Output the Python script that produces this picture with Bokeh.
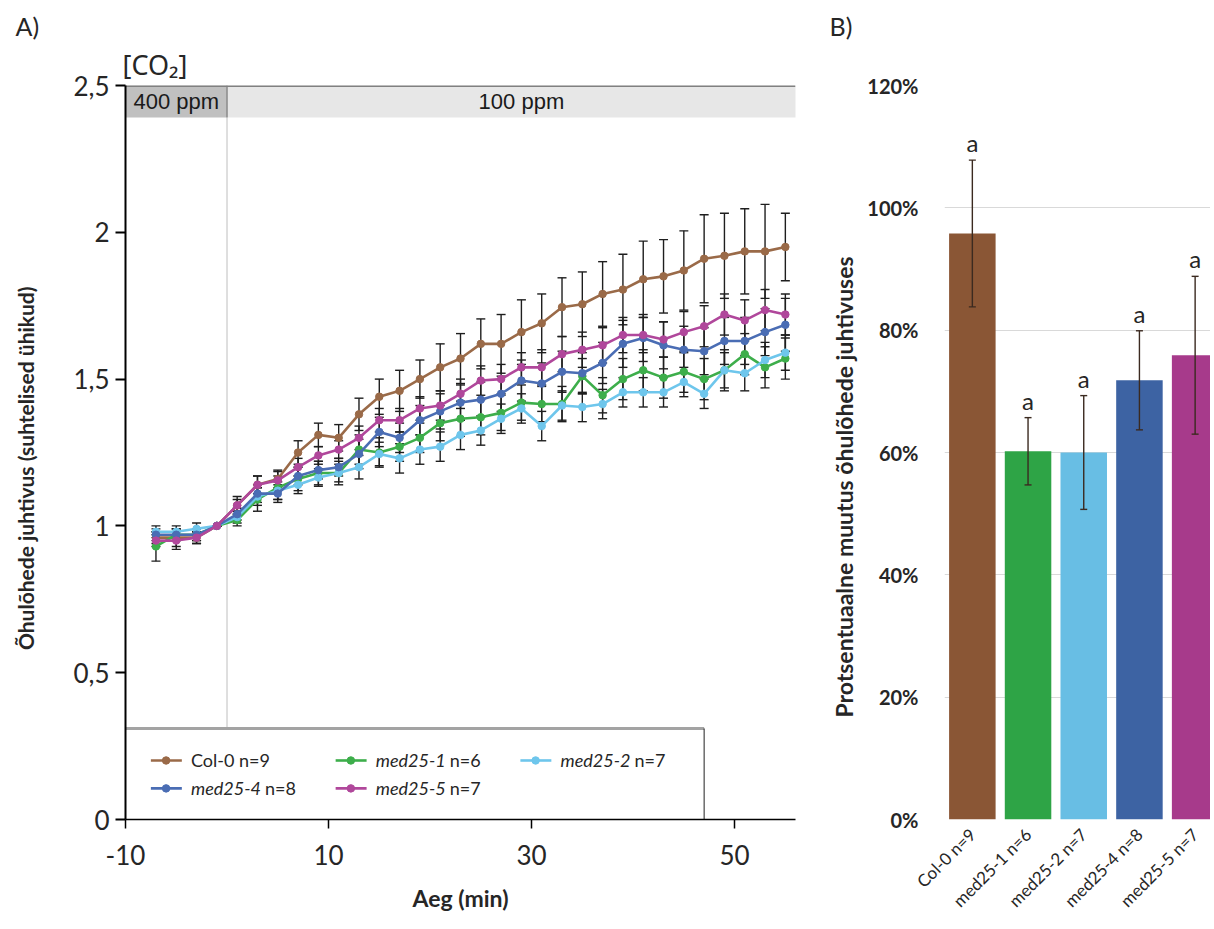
import math
from bokeh.plotting import figure
from bokeh.models import ColumnDataSource, Range1d, FixedTicker, Whisker, TeeHead, Title
from bokeh.layouts import row
from bokeh.embed import file_html
from bokeh.resources import INLINE
from bokeh.core.properties import value

# ---------------- data: panel A ----------------
time_min = [-7, -5, -3, -1, 1, 3, 5, 7, 9, 11, 13, 15, 17, 19, 21, 23, 25, 27, 29, 31,
            33, 35, 37, 39, 41, 43, 45, 47, 49, 51, 53, 55]

col0 = [0.96, 0.96, 0.96, 1.00, 1.07, 1.14, 1.16, 1.25, 1.31, 1.30, 1.38, 1.44, 1.46, 1.50, 1.54, 1.57,
        1.62, 1.62, 1.66, 1.69, 1.745, 1.755, 1.79, 1.805, 1.84, 1.85, 1.87, 1.91, 1.92, 1.935, 1.935, 1.95]
med25_1 = [0.93, 0.97, 0.97, 1.00, 1.02, 1.09, 1.13, 1.16, 1.18, 1.18, 1.26, 1.25, 1.27, 1.30, 1.35, 1.365,
           1.37, 1.385, 1.42, 1.415, 1.415, 1.51, 1.445, 1.50, 1.53, 1.505, 1.525, 1.50, 1.53, 1.585, 1.54, 1.57]
med25_2 = [0.98, 0.98, 0.99, 1.00, 1.03, 1.10, 1.12, 1.14, 1.165, 1.18, 1.20, 1.245, 1.23, 1.26, 1.27, 1.31,
           1.325, 1.365, 1.40, 1.34, 1.41, 1.405, 1.415, 1.455, 1.455, 1.455, 1.49, 1.45, 1.53, 1.52, 1.565, 1.59]
med25_4 = [0.97, 0.97, 0.97, 1.00, 1.04, 1.11, 1.11, 1.17, 1.19, 1.20, 1.245, 1.32, 1.30, 1.36, 1.39, 1.42,
           1.43, 1.45, 1.495, 1.485, 1.525, 1.52, 1.555, 1.62, 1.64, 1.615, 1.60, 1.595, 1.63, 1.63, 1.66, 1.685]
med25_5 = [0.95, 0.95, 0.96, 1.00, 1.07, 1.14, 1.155, 1.20, 1.24, 1.26, 1.30, 1.36, 1.36, 1.40, 1.41, 1.45,
           1.495, 1.50, 1.54, 1.54, 1.585, 1.60, 1.615, 1.65, 1.65, 1.635, 1.66, 1.68, 1.72, 1.70, 1.735, 1.72]

col0_se = [0.02, 0.03, 0.02, 0, 0.03, 0.03, 0.03, 0.04, 0.04, 0.045, 0.055, 0.06, 0.07, 0.065, 0.08, 0.085,
           0.085, 0.10, 0.11, 0.10, 0.10, 0.11, 0.11, 0.12, 0.13, 0.125, 0.135, 0.15, 0.145, 0.145, 0.16, 0.115]
med25_1_se = [0.05, 0.02, 0.02, 0, 0.02, 0.04, 0.04, 0.04, 0.04, 0.04, 0.05, 0.05, 0.05, 0.05, 0.06, 0.06,
              0.06, 0.06, 0.06, 0.06, 0.06, 0.06, 0.06, 0.07, 0.07, 0.07, 0.07, 0.07, 0.07, 0.07, 0.07, 0.07]
med25_2_se = [0.02, 0.02, 0.02, 0, 0.02, 0.03, 0.03, 0.03, 0.03, 0.03, 0.04, 0.04, 0.05, 0.05, 0.05, 0.05,
              0.05, 0.05, 0.05, 0.05, 0.05, 0.05, 0.05, 0.05, 0.05, 0.05, 0.05, 0.05, 0.06, 0.06, 0.06, 0.06]
med25_4_se = [0.02, 0.02, 0.02, 0, 0.02, 0.03, 0.03, 0.03, 0.03, 0.03, 0.05, 0.05, 0.05, 0.05, 0.06, 0.06,
              0.06, 0.06, 0.07, 0.07, 0.07, 0.07, 0.07, 0.08, 0.08, 0.08, 0.08, 0.08, 0.08, 0.08, 0.08, 0.09]
med25_5_se = [0.02, 0.03, 0.02, 0, 0.02, 0.03, 0.03, 0.03, 0.03, 0.03, 0.04, 0.04, 0.04, 0.04, 0.05, 0.05,
              0.05, 0.05, 0.05, 0.06, 0.06, 0.06, 0.06, 0.06, 0.06, 0.06, 0.07, 0.07, 0.07, 0.07, 0.07, 0.07]

line_genotypes = ["Col-0", "med25-1", "med25-2", "med25-4", "med25-5"]
line_n = ["n=9", "n=6", "n=7", "n=8", "n=7"]
line_means = [col0, med25_1, med25_2, med25_4, med25_5]
line_ses = [col0_se, med25_1_se, med25_2_se, med25_4_se, med25_5_se]
line_colors = ["#9A6A48", "#3DAE4B", "#6EC6EC", "#4A6DB4", "#B0479B"]

co2_labels = ["400 ppm", "100 ppm"]
co2_start = [-10, 0]
co2_end = [0, 58]

y_ticks_a = [0, 0.5, 1, 1.5, 2, 2.5]
y_tick_labels_a = ["0", "0,5", "1", "1,5", "2", "2,5"]
x_ticks_a = [-10, 10, 30, 50]
x_tick_labels_a = ["-10", "10", "30", "50"]

# ---------------- data: panel B ----------------
bar_labels = ["Col-0 n=9", "med25-1 n=6", "med25-2 n=7", "med25-4 n=8", "med25-5 n=7"]
bar_values = [95.8, 60.2, 60.0, 71.8, 75.9]
bar_errors = [12.0, 5.5, 9.3, 8.1, 12.9]
bar_letters = ["a", "a", "a", "a", "a"]
bar_colors = ["#8A5635", "#2EA446", "#68BEE4", "#3D63A3", "#A73A8B"]
y_ticks_b = [0, 20, 40, 60, 80, 100, 120]

FONT = "Lato"
TXT = "#262626"
EM = "\u2003"

# ================= Panel A =================
pA = figure(width=818, height=925, x_range=Range1d(-10, 56), y_range=Range1d(0, 2.5),
            output_backend="svg", toolbar_location=None,
            min_border_left=125, min_border_right=23, min_border_top=85, min_border_bottom=106)
pA.outline_line_color = None
pA.xgrid.visible = False
pA.ygrid.visible = False

# CO2 band
band_bottom = 2.5 - 0.109
pA.quad(left=co2_start[:1], right=co2_end[:1], bottom=band_bottom, top=2.5,
        fill_color="#c0c0c0", line_color=None)
pA.quad(left=co2_start[1:], right=co2_end[1:], bottom=band_bottom, top=2.5,
        fill_color="#e7e7e7", line_color=None)
pA.segment(x0=[co2_start[1]], y0=[0], x1=[co2_start[1]], y1=[band_bottom], line_color="#d4d4d4", line_width=1.5)
pA.segment(x0=[co2_start[1]], y0=[band_bottom], x1=[co2_start[1]], y1=[2.5], line_color="#8a8a8a", line_width=1.5)
pA.segment(x0=[-10], y0=[2.5], x1=[56], y1=[2.5], line_color="#808080", line_width=3)
pA.text(x=[(s + e) / 2 for s, e in zip(co2_start, co2_end)], y=[(band_bottom + 2.5) / 2] * 2,
        text=co2_labels, text_align="center", text_baseline="middle",
        text_font=value("Liberation Sans"), text_font_size="22px", text_color="#1a1a1a")

# error bars + series
for mean, se in zip(line_means, line_ses):
    src = ColumnDataSource(dict(t=time_min,
                                lo=[m - s for m, s in zip(mean, se)],
                                up=[m + s for m, s in zip(mean, se)]))
    pA.add_layout(Whisker(source=src, base="t", lower="lo", upper="up", line_color="#1e1e1e", line_width=1.4,
                          upper_head=TeeHead(size=9, line_color="#1e1e1e", line_width=1.4),
                          lower_head=TeeHead(size=9, line_color="#1e1e1e", line_width=1.4)))
for mean, col in zip(line_means, line_colors):
    pA.line(time_min, mean, line_color=col, line_width=2.6)
    pA.scatter(time_min, mean, size=7.5, fill_color=col, line_color=col)

# legend box
leg_right = 47.0
leg_top = 0.31
pA.quad(left=[-10], right=[leg_right], bottom=[0], top=[leg_top], fill_color="white", line_color=None)
pA.segment(x0=[-10], y0=[leg_top], x1=[leg_right], y1=[leg_top], line_color="#a3a3a3", line_width=3)
pA.segment(x0=[leg_right], y0=[0], x1=[leg_right], y1=[leg_top], line_color="#202020", line_width=1)

leg_cols = [-6.0, 12.2, 30.4, -6.0, 12.2]
leg_rows = [0.201, 0.201, 0.201, 0.106, 0.106]
for i, (g, n, col) in enumerate(zip(line_genotypes, line_n, line_colors)):
    cx, cy = leg_cols[i], leg_rows[i]
    pA.segment(x0=[cx - 1.5], y0=[cy], x1=[cx + 1.55], y1=[cy], line_color=col, line_width=2.6)
    pA.scatter([cx], [cy], size=7.5, fill_color=col, line_color=col)
    tx = cx + 2.45
    if g.startswith("med"):
        pA.text(x=[tx], y=[cy], text=[g], text_baseline="middle", text_font=value(FONT),
                text_font_style="italic", text_font_size="18px", text_color=TXT)
        pA.text(x=[tx], y=[cy], text=[n], x_offset=74, text_baseline="middle", text_font=value(FONT),
                text_font_size="18px", text_color=TXT)
    else:
        pA.text(x=[tx], y=[cy], text=[g + " " + n], text_baseline="middle", text_font=value(FONT),
                text_font_size="18px", text_color=TXT)

# axes
pA.yaxis.ticker = FixedTicker(ticks=y_ticks_a)
pA.yaxis.major_label_overrides = {t: l for t, l in zip(y_ticks_a, y_tick_labels_a)}
pA.yaxis.axis_line_color = "black"
pA.yaxis.axis_line_width = 2
pA.yaxis.major_tick_out = 10
pA.yaxis.major_tick_in = 0
pA.yaxis.major_tick_line_width = 2
pA.yaxis.minor_tick_out = 0
pA.yaxis.minor_tick_in = 0
pA.yaxis.major_label_standoff = 6
pA.yaxis.major_label_text_font = FONT
pA.yaxis.major_label_text_font_size = "26px"
pA.yaxis.major_label_text_color = TXT
pA.yaxis.axis_label = "Õhulõhede juhtivus (suhtelised ühikud)" + EM + EM
pA.yaxis.axis_label_text_font = FONT
pA.yaxis.axis_label_text_font_style = "bold"
pA.yaxis.axis_label_text_font_size = "21px"
pA.yaxis.axis_label_text_color = TXT
pA.yaxis.axis_label_standoff = 32

pA.xaxis.ticker = FixedTicker(ticks=x_ticks_a)
pA.xaxis.major_label_overrides = {t: l for t, l in zip(x_ticks_a, x_tick_labels_a)}
pA.xaxis.axis_line_color = "black"
pA.xaxis.axis_line_width = 1.5
pA.xaxis.major_tick_out = 9
pA.xaxis.major_tick_in = 0
pA.xaxis.major_tick_line_width = 1.5
pA.xaxis.minor_tick_out = 0
pA.xaxis.minor_tick_in = 0
pA.xaxis.major_label_standoff = 16
pA.xaxis.major_label_text_font = FONT
pA.xaxis.major_label_text_font_size = "26px"
pA.xaxis.major_label_text_color = TXT
pA.xaxis.axis_label = "Aeg (min)"
pA.xaxis.axis_label_text_font = FONT
pA.xaxis.axis_label_text_font_style = "bold"
pA.xaxis.axis_label_text_font_size = "23px"
pA.xaxis.axis_label_text_color = TXT
pA.xaxis.axis_label_standoff = 16

pA.add_layout(Title(text="[CO₂]", align="left", offset=-3, standoff=6, text_font="Noto Sans",
                    text_font_size="27px", text_font_style="normal", text_color=TXT), "above")
pA.add_layout(Title(text="A)", align="left", offset=-110, standoff=0, text_font=FONT,
                    text_font_size="25px", text_font_style="normal", text_color=TXT), "above")

# ================= Panel B =================
xb = list(range(len(bar_labels)))
pB = figure(width=392, height=925, x_range=Range1d(-0.5, 4.276), y_range=Range1d(0, 120),
            output_backend="svg", toolbar_location=None,
            min_border_left=126, min_border_right=0, min_border_top=85, min_border_bottom=101)
pB.outline_line_color = None
pB.xgrid.visible = False
pB.ygrid.grid_line_color = "#d9d9d9"
pB.ygrid.grid_line_width = 1
pB.ygrid.ticker = FixedTicker(ticks=y_ticks_b)

srcB = ColumnDataSource(dict(x=xb, top=bar_values, color=bar_colors,
                             lo=[v - e for v, e in zip(bar_values, bar_errors)],
                             up=[v + e for v, e in zip(bar_values, bar_errors)],
                             letter=bar_letters))
pB.vbar(x="x", top="top", width=0.835, bottom=0, fill_color="color", line_color=None, source=srcB)
pB.add_layout(Whisker(source=srcB, base="x", lower="lo", upper="up", level="overlay",
                      line_color="#3b2a20", line_width=1.4,
                      upper_head=TeeHead(size=7, line_color="#3b2a20", line_width=1.4),
                      lower_head=TeeHead(size=7, line_color="#3b2a20", line_width=1.4)))
pB.text(x="x", y="up", text="letter", source=srcB, y_offset=-3, text_align="center",
        text_baseline="bottom", text_font=value(FONT), text_font_size="24px", text_color=TXT)

pB.yaxis.ticker = FixedTicker(ticks=y_ticks_b)
pB.yaxis.major_label_overrides = {t: f"{t}%" for t in y_ticks_b}
pB.yaxis.axis_line_color = None
pB.yaxis.major_tick_out = 0
pB.yaxis.major_tick_in = 0
pB.yaxis.minor_tick_out = 0
pB.yaxis.minor_tick_in = 0
pB.yaxis.major_label_standoff = 26
pB.yaxis.major_label_text_font = FONT
pB.yaxis.major_label_text_font_style = "bold"
pB.yaxis.major_label_text_font_size = "20px"
pB.yaxis.major_label_text_color = TXT
pB.yaxis.axis_label = "Protsentuaalne muutus õhulõhede juhtivuses" + EM + EM + EM + EM
pB.yaxis.axis_label_text_font = FONT
pB.yaxis.axis_label_text_font_style = "bold"
pB.yaxis.axis_label_text_font_size = "23px"
pB.yaxis.axis_label_text_color = TXT
pB.yaxis.axis_label_standoff = 6

pB.xaxis.ticker = FixedTicker(ticks=xb)
pB.xaxis.major_label_overrides = {i: l for i, l in zip(xb, bar_labels)}
pB.xaxis.major_label_orientation = math.pi / 4
pB.xaxis.axis_line_color = None
pB.xaxis.major_tick_out = 0
pB.xaxis.major_tick_in = 0
pB.xaxis.minor_tick_out = 0
pB.xaxis.minor_tick_in = 0
pB.xaxis.major_label_standoff = 12
pB.xaxis.major_label_text_font = FONT
pB.xaxis.major_label_text_font_size = "17px"
pB.xaxis.major_label_text_color = TXT

pB.add_layout(Title(text=EM, align="left", offset=0, standoff=6, text_font="Noto Sans",
                    text_font_size="27px", text_font_style="normal", text_color=TXT), "above")
pB.add_layout(Title(text="B)", align="left", offset=-115, standoff=0, text_font=FONT,
                    text_font_size="25px", text_font_style="normal", text_color=TXT), "above")

layout = row(pA, pB)
open("out.html", "w").write(file_html(layout, INLINE))
